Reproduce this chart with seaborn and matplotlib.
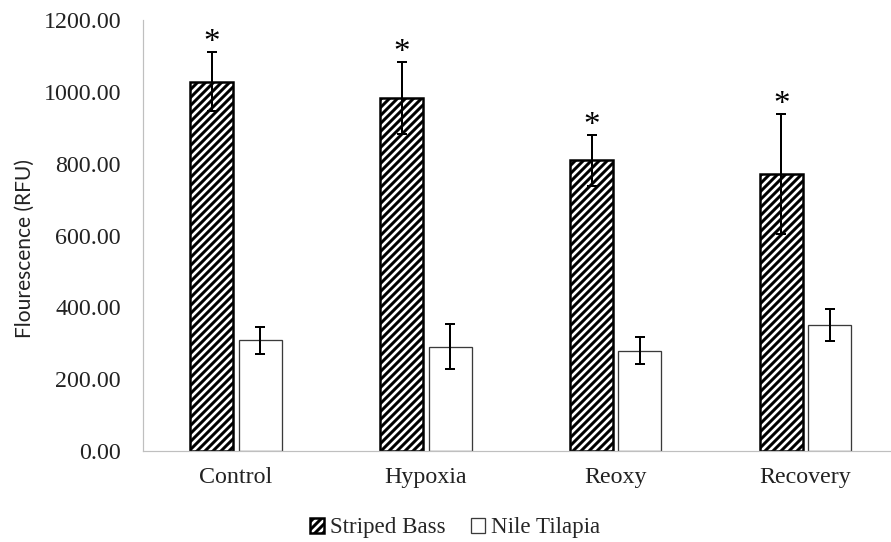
import matplotlib
matplotlib.use("Agg")
import matplotlib.pyplot as plt
import seaborn as sns
import pandas as pd
import numpy as np

categories = ["Control", "Hypoxia", "Reoxy", "Recovery"]
species = ["Striped Bass", "Nile Tilapia"]
bass_mean = [1028, 982, 810, 771]
bass_err = [82, 100, 71, 167]
tilapia_mean = [308, 290, 279, 351]
tilapia_err = [38, 63, 38, 45]
yticks = [0, 200, 400, 600, 800, 1000, 1200]

df = pd.DataFrame({
    "Condition": categories * 2,
    "Species": [species[0]] * 4 + [species[1]] * 4,
    "Value": bass_mean + tilapia_mean,
})

sns.set_theme(style="white")
plt.rcParams["hatch.linewidth"] = 3.0
plt.rcParams["hatch.color"] = "black"
serif = ["Liberation Serif", "DejaVu Serif"]

DPI = 72
fig = plt.figure(figsize=(891 / DPI, 542 / DPI), dpi=DPI)
ax = fig.add_axes([143 / 891, 91 / 542, (891 - 143) / 891, (451 - 20) / 542])

sns.barplot(data=df, x="Condition", y="Value", hue="Species", order=categories,
            hue_order=species, palette=["white", "white"], width=0.51, gap=0.11,
            legend=False, ax=ax)

bar_containers = list(ax.containers)
errs = [bass_err, tilapia_err]
means = [bass_mean, tilapia_mean]
for i, cont in enumerate(bar_containers):
    for p in cont.patches:
        if i == 0:
            p.set_hatch("///")
            p.set_edgecolor("black")
            p.set_linewidth(2.5)
            p.set_facecolor("white")
        else:
            p.set_edgecolor("#3a3a3a")
            p.set_linewidth(1.3)
            p.set_facecolor("white")
    xs = [p.get_x() + p.get_width() / 2 for p in cont.patches]
    ax.errorbar(xs, means[i], yerr=errs[i], fmt="none", ecolor="black",
                elinewidth=2, capsize=5, capthick=2, zorder=5)
    if i == 0:
        for x, m, e in zip(xs, means[i], errs[i]):
            ax.annotate("*", (x, m + e), xytext=(0, 1), textcoords="offset points",
                        ha="center", va="baseline", fontsize=33, family=serif,
                        color="black")

ax.set_ylim(0, 1200)
ax.set_xlim(-0.49, 3.45)
ax.set_yticks(yticks)
ax.set_yticklabels([f"{v:.2f}" for v in yticks], family=serif, fontsize=24, color="#222222")
ax.set_xticks(range(len(categories)))
ax.set_xticklabels(categories, family=serif, fontsize=24, color="#222222")
ax.tick_params(axis="y", length=0, pad=22)
ax.tick_params(axis="x", length=0, pad=16)
ax.set_xlabel("")
ax.set_ylabel("Flourescence (RFU)", family=["Lato", "DejaVu Sans"], fontsize=21, color="#222222")
ax.yaxis.set_label_coords(-0.145, 0.47)

for s in ["top", "right"]:
    ax.spines[s].set_visible(False)
for s in ["left", "bottom"]:
    ax.spines[s].set_color("#bfbfbf")
    ax.spines[s].set_linewidth(1.2)

leg = fig.legend(bar_containers, species, loc="center", bbox_to_anchor=(0.5107, 1 - 528 / 542),
                 ncol=2, frameon=False, prop={"family": serif, "size": 23},
                 handlelength=0.6, handleheight=0.6, handletextpad=0.26, columnspacing=1.13)

fig.savefig("out.png", dpi=DPI, facecolor="white")
